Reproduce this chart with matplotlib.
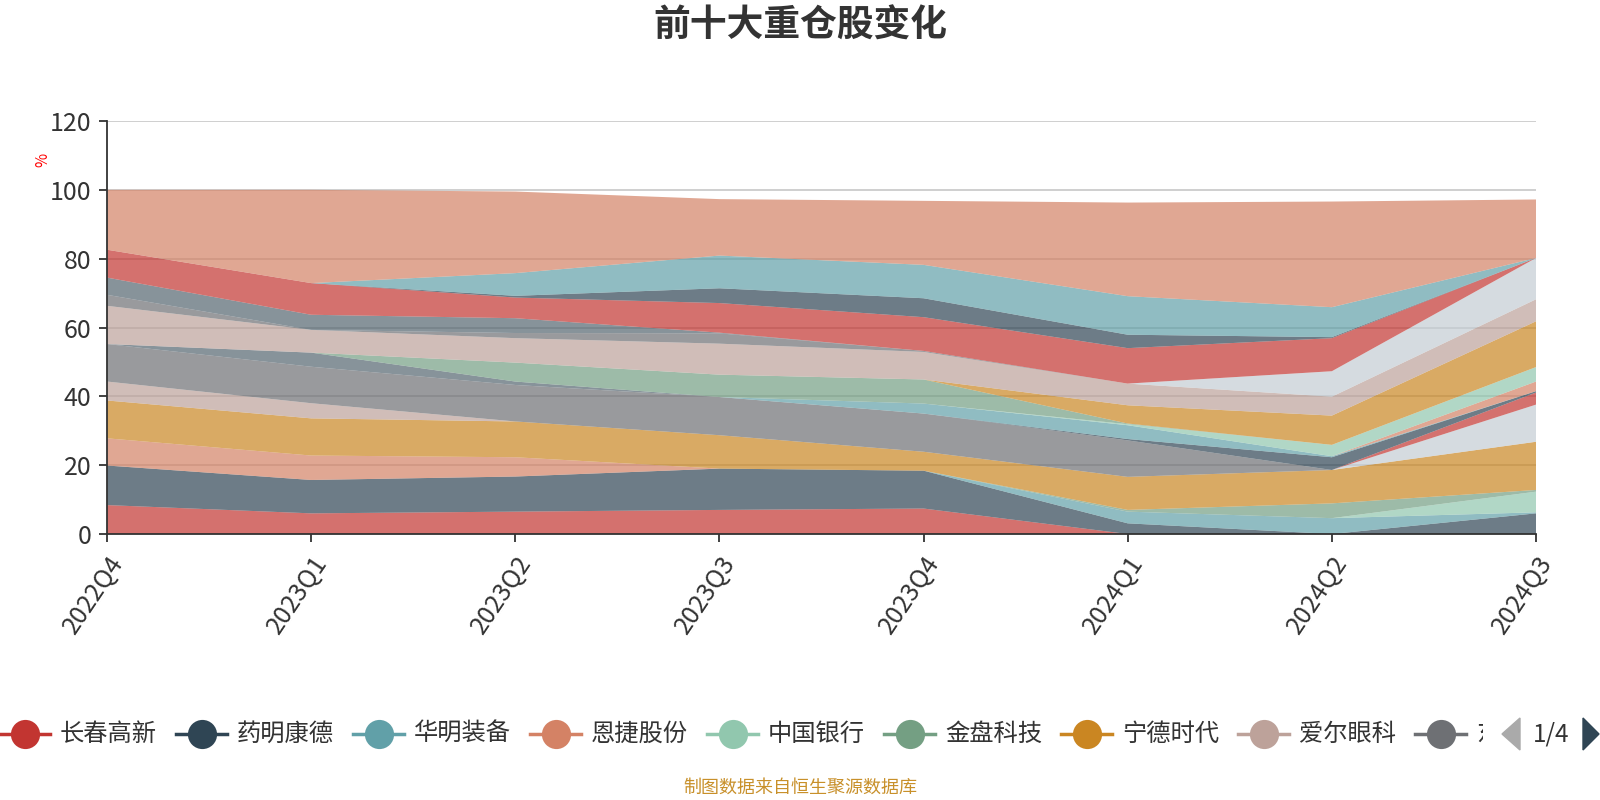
import numpy as np
import matplotlib.pyplot as plt
from matplotlib.lines import Line2D
from matplotlib.patches import Polygon
from matplotlib.transforms import Bbox, TransformedBbox

plt.rcParams['font.family'] = ['Noto Sans CJK SC', 'DejaVu Sans']

# ---- data (holding weight, %) ----
quarters = ['2022Q4', '2023Q1', '2023Q2', '2023Q3', '2023Q4', '2024Q1', '2024Q2', '2024Q3']

stocks = ['长春高新', '药明康德', '华明装备', '恩捷股份', '中国银行', '金盘科技', '宁德时代', '爱尔眼科', '东方财富'] + \
         ['持仓%d' % i for i in range(10, 27)]

weights = [
    [8.4, 6.0, 6.5, 7.0, 7.4, 0, 0, 0],
    [11.5, 9.7, 10.2, 12.0, 11.0, 3.1, 0, 6.0],
    [0, 0, 0, 0, 0, 3.4, 4.6, 0.3],
    [7.9, 7.1, 5.6, 0, 0, 0, 0, 0],
    [0, 0, 0, 0, 0, 0, 0, 6.0],
    [0, 0, 0, 0, 0, 0.5, 4.3, 0.5],
    [11.0, 10.8, 10.4, 9.7, 5.5, 9.6, 9.7, 14.0],
    [5.5, 4.4, 0, 0, 0, 0, 0, 0],
    [10.9, 10.6, 10.6, 11.1, 11.1, 10.6, 0, 0],
    [0, 4.1, 1.0, 0, 0, 0, 0, 0],
    [0, 0, 0, 0, 0, 0, 0, 10.8],
    [0, 0, 0, 0, 0, 0, 0, 3.5],
    [0, 0, 0, 0, 0, 0.4, 3.7, 0.4],
    [0, 0, 0, 0, 2.9, 4.0, 0.3, 0],
    [0, 0, 0, 0, 0, 0, 0, 2.8],
    [0, 0, 0, 0, 0, 0.3, 3.3, 4.2],
    [0, 0, 5.5, 6.5, 7.0, 0.2, 0, 0],
    [0, 0, 0, 0, 0, 5.3, 8.5, 13.3],
    [11.1, 6.6, 7.1, 9.0, 8.0, 6.3, 5.5, 6.4],
    [3.2, 0, 1.5, 3.0, 0.3, 0, 0, 0],
    [5.0, 4.4, 4.3, 0.2, 0, 0, 0, 0],
    [0, 0, 0, 0, 0, 0, 7.4, 12.0],
    [8.1, 9.2, 6.0, 8.6, 9.8, 10.3, 9.6, 0],
    [0, 0, 0.5, 4.3, 5.5, 3.9, 0.3, 0],
    [0, 0, 6.6, 9.5, 9.7, 11.2, 8.7, 0],
    [17.4, 27.1, 23.7, 16.4, 18.6, 27.2, 30.7, 17.0],
]

palette = ['#c23531', '#2f4554', '#61a0a8', '#d48265', '#91c7ae', '#749f83',
           '#ca8622', '#bda29a', '#6e7074', '#546570', '#c4ccd3']
colors = [palette[i % len(palette)] for i in range(len(stocks))]

W, H = 1600, 800


def fx(x):
    return x / W


def fy(y):
    return 1 - y / H


fig = plt.figure(figsize=(16, 8), dpi=100)
ax = fig.add_axes([fx(107), fy(534), fx(1536 - 107), (534 - 121) / H])

x = np.arange(len(quarters))
ax.stackplot(x, np.array(weights), colors=colors, alpha=0.7, lw=0.6, zorder=2)

ax.set_xlim(0, len(quarters) - 1)
ax.set_ylim(0, 120)
ax.set_yticks(range(0, 121, 20))
ax.yaxis.grid(True, color='#cccccc', lw=1.3, zorder=0)
ax.set_axisbelow(True)

for s in ['top', 'right']:
    ax.spines[s].set_visible(False)
for s in ['left', 'bottom']:
    ax.spines[s].set_color('#333333')
    ax.spines[s].set_linewidth(1.3)
    ax.spines[s].set_zorder(5)

ax.set_xticks(x)
ax.set_xticklabels(quarters, rotation=56, ha='right', va='top', rotation_mode='anchor')
ax.tick_params(axis='x', direction='out', length=6, width=1.3, color='#333333',
               labelsize=18, labelcolor='#333333', pad=6)
ax.tick_params(axis='y', direction='out', length=6, width=1.3, color='#333333',
               labelsize=18, labelcolor='#333333', pad=5)

fig.text(fx(43), fy(160), '%', color='red', fontsize=11, rotation=90, ha='center', va='center')

fig.text(0.5, fy(26), '前十大重仓股变化', fontsize=26.5, fontweight='bold', color='#333333',
         ha='center', va='center')

# ---- legend (first page only) ----
ly = fy(734)
step = 177
clip = TransformedBbox(Bbox([[0, 0], [fx(1483), 1]]), fig.transFigure)
for i in range(9):
    x0 = -1 + step * i
    fig.add_artist(Line2D([fx(x0), fx(x0 + 51)], [ly, ly], color=colors[i], lw=2.5,
                          transform=fig.transFigure))
    fig.add_artist(Line2D([fx(x0 + 25.5)], [ly], marker='o', markersize=21, color=colors[i],
                          markeredgewidth=0, transform=fig.transFigure))
    label = stocks[i]
    if i == 8:
        # last item is cut off by the pager, only a sliver of the first char shows
        label = label[0]
    t = fig.text(fx(x0 + 61), ly, label, fontsize=17.5, color='#333333', ha='left', va='center')
    if i == 8:
        t.set_clip_box(clip)
        t.set_clip_on(True)

fig.add_artist(Polygon([[fx(1520), fy(718)], [fx(1520), fy(750)], [fx(1502), fy(734)]],
                       closed=True, color='#aaaaaa', transform=fig.transFigure))
fig.text(fx(1551), ly, '1/4', fontsize=17.5, color='#333333', ha='center', va='center')
fig.add_artist(Polygon([[fx(1583), fy(718)], [fx(1583), fy(750)], [fx(1599), fy(734)]],
                       closed=True, color='#2f4554', transform=fig.transFigure))

fig.text(0.5, fy(788), '制图数据来自恒生聚源数据库', fontsize=13, color='#c8902a',
         ha='center', va='center')

fig.savefig('out.png', dpi=100)
